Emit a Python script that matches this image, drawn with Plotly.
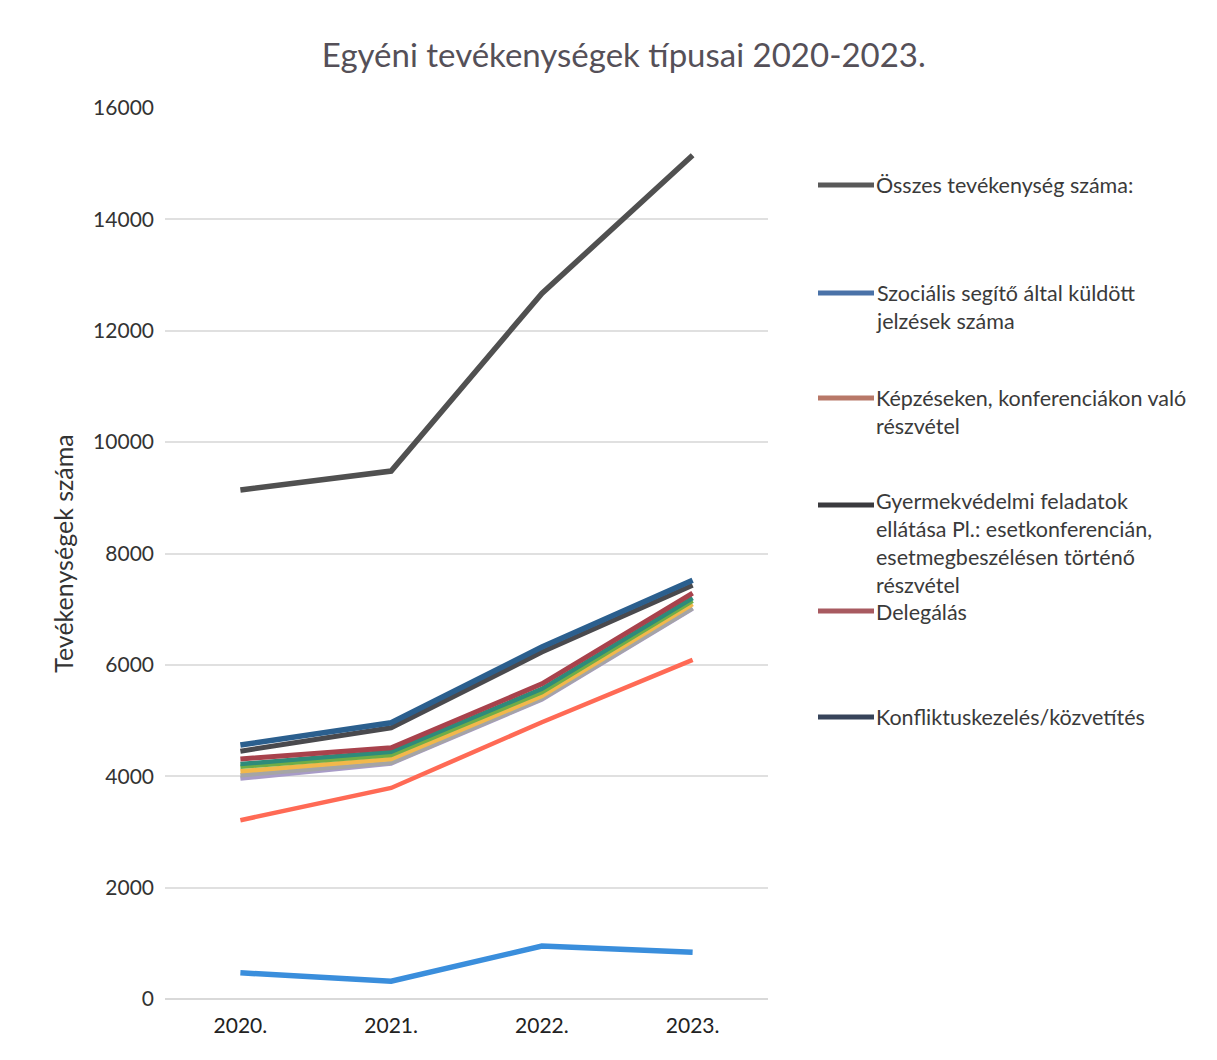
import plotly.graph_objects as go

years = ["2020.", "2021.", "2022.", "2023."]

osszes = [9140, 9480, 12670, 15150]
szocialis = [470, 320, 950, 840]
kepzeseken = [3210, 3790, 4970, 6090]
gyermekvedelmi = [4450, 4870, 6230, 7430]
delegalas = [4310, 4510, 5660, 7290]
konfliktus = [4560, 4960, 6320, 7520]
egyeb_teal = [4220, 4440, 5570, 7200]
egyeb_zold = [4170, 4380, 5510, 7150]
egyeb_sarga = [4090, 4310, 5440, 7090]
egyeb_szurke = [4020, 4240, 5390, 7020]
egyeb_lila = [3960, 4230, 5380, 7010]

legend_names = [
    "Összes tevékenység száma:",
    "Szociális segítő által küldött<br>jelzések száma",
    "Képzéseken, konferenciákon való<br>részvétel",
    "Gyermekvédelmi feladatok<br>ellátása Pl.: esetkonferencián,<br>esetmegbeszélésen történő<br>részvétel",
    "Delegálás",
    "Konfliktuskezelés/közvetítés",
]
legend_colors = ["#595959", "#4A72A8", "#B87868", "#3A3A3E", "#A85A60", "#37445A"]

fig = go.Figure()

extra = [
    (egyeb_lila, "#A89CC8"),
    (egyeb_szurke, "#A5A5A5"),
    (egyeb_sarga, "#F2B84B"),
    (egyeb_zold, "#70AD47"),
    (egyeb_teal, "#2E8B7A"),
]
for vals, col in extra:
    fig.add_trace(go.Scatter(x=years, y=vals, mode="lines", showlegend=False,
                             line=dict(color=col, width=4.5), hoverinfo="skip"))

main = [
    (kepzeseken, "#FF6A55", 4.5, legend_names[2]),
    (delegalas, "#A8424C", 5, legend_names[4]),
    (gyermekvedelmi, "#4A4A4E", 5, legend_names[3]),
    (konfliktus, "#2B5F8E", 5.5, legend_names[5]),
    (szocialis, "#3A8EDC", 5.5, legend_names[1]),
    (osszes, "#505050", 5.5, legend_names[0]),
]
for vals, col, w, name in main:
    fig.add_trace(go.Scatter(x=years, y=vals, mode="lines", name=name.replace("<br>", " "),
                             showlegend=False, line=dict(color=col, width=w)))

# manual legend (Excel-style fixed slots); positions in screen px of the reference
legend_y = [185, 293, 398, 505, 611, 717]
text_shift = [0, 0, 0, 4, -1, 0]
X0, Y0 = 165, 999  # plot origin on screen
for name, col, py, sh in zip(legend_names, legend_colors, legend_y, text_shift):
    fig.add_shape(type="line", xref="paper", yref="paper",
                  x0=(818 - X0) / 603, x1=(874 - X0) / 603,
                  y0=(Y0 - py) / 891, y1=(Y0 - py) / 891,
                  line=dict(color=col, width=5))
    fig.add_annotation(xref="paper", yref="paper", x=(874 - X0) / 603, y=(Y0 - py + 15 + sh) / 891,
                       text=name, showarrow=False, xanchor="left", yanchor="top", align="left",
                       font=dict(family="Lato", size=21.5, color="#3A3A3A"))

fig.update_layout(
    width=1217, height=1060,
    paper_bgcolor="white", plot_bgcolor="white",
    margin=dict(l=157, r=457, t=100, b=69),
    title=dict(text="Egyéni tevékenységek típusai 2020-2023.", x=0.506, xanchor="center",
               y=1 - 47 / 1060, yanchor="middle",
               font=dict(family="Lato", size=33, color="#555058")),
    showlegend=False,
    font=dict(family="Lato", color="#333333"),
)
fig.update_xaxes(type="category", range=[-0.5, 3.5], showgrid=False, showline=False,
                 ticks="", tickfont=dict(size=21, color="#222222"), ticklabelstandoff=12)
fig.update_yaxes(range=[0, 16000], dtick=2000, tickformat="d", showgrid=True,
                 gridcolor="#E0E0E0", gridwidth=1.5,
                 zeroline=True, zerolinecolor="#D9D9D9", zerolinewidth=1.5,
                 tickfont=dict(size=21, color="#333333"), ticklabelstandoff=10,
                 title=dict(text="Tevékenységek száma", font=dict(size=25, color="#333333"), standoff=12))

fig.write_html("out.html")
